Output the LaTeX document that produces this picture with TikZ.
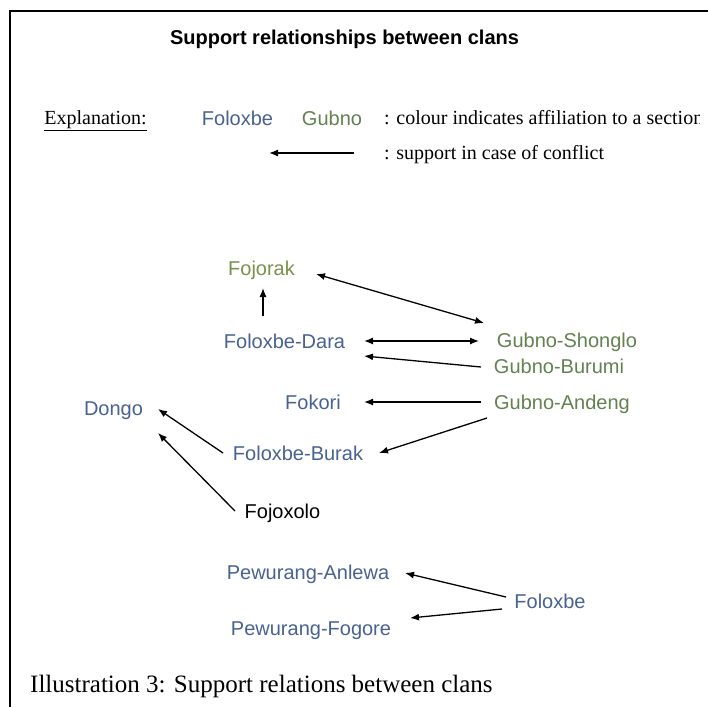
\documentclass[tikz,border=0pt]{standalone}
\usepackage{fontspec}
\setmainfont{Liberation Serif}
\setsansfont{Liberation Sans}
\usetikzlibrary{arrows.meta,calc}
\definecolor{clanblue}{RGB}{72,98,145}
\definecolor{clangreen}{RGB}{98,130,80}
\definecolor{clanolive}{RGB}{120,145,75}
\begin{document}
\begin{tikzpicture}[x=1pt,y=-1pt,
  clan/.style={font=\sffamily\fontsize{20}{24}\selectfont, inner sep=0pt, anchor=base, text height=14.6pt, text depth=4pt},
  blueclan/.style={clan, text=clanblue},
  greenclan/.style={clan, text=clangreen},
  serifnote/.style={font=\rmfamily\fontsize{20}{24}\selectfont, inner sep=0pt, anchor=base west},
  arr/.style={line width=1.3pt, -{Latex[length=9pt,width=7pt]}},
  darr/.style={line width=1.3pt, {Latex[length=9pt,width=7pt]}-{Latex[length=9pt,width=7pt]}}]
\useasboundingbox (0,0) rectangle (708,707);
\fill[white] (0,0) rectangle (708,707);
% frame
\draw[line width=1.8pt] (10,707) -- (10,11) -- (708,11);
% title
\node[font=\sffamily\bfseries\fontsize{20}{24}\selectfont, inner sep=0pt, anchor=base] (title) at (344.5,44) {Support relationships between clans};
% legend
\node[serifnote, anchor=base] (expl) at (95.5,124.6) {\underline{Explanation:}};
\node[blueclan] (legfol) at (237.5,125) {Foloxbe};
\node[greenclan] (leggub) at (332,125) {Gubno};
\begin{scope}
\clip (0,0) rectangle (699,707);
\node[serifnote] (legcol) at (384,124.6) {: colour indicates affiliation to a section};
\end{scope}
\coordinate (legtail) at (354,153);
\coordinate (leghead) at (269,153);
\draw[arr] (legtail) -- (leghead);
\node[serifnote] (legsup) at (384,159.6) {: support in case of conflict};
% clans
\node[clan, text=clanolive] (fojorak) at (261.5,275) {Fojorak};
\node[blueclan] (dara) at (284.5,348) {Foloxbe-Dara};
\node[greenclan] (shonglo) at (567,347) {Gubno-Shonglo};
\node[greenclan] (burumi) at (559,373) {Gubno-Burumi};
\node[blueclan] (fokori) at (313,409) {Fokori};
\node[greenclan] (andeng) at (562,409) {Gubno-Andeng};
\node[blueclan] (burak) at (298,460) {Foloxbe-Burak};
\node[blueclan] (dongo) at (113.5,415) {Dongo};
\node[clan, text=black] (fojoxolo) at (282.5,518) {Fojoxolo};
\node[blueclan] (anlewa) at (308,579) {Pewurang-Anlewa};
\node[blueclan] (fogore) at (311,635) {Pewurang-Fogore};
\node[blueclan] (folbot) at (550,608) {Foloxbe};
% connectors
\draw[arr] ($(dara)+(-21.5,-26.7)$) -- ($(fojorak)+(1.5,18.3)$);
\draw[darr] ($(fojorak)+(54.5,4.3)$) -- ($(shonglo)+(-83,-18.7)$);
\draw[darr] ($(dara)+(79.5,-1.7)$) -- ($(shonglo)+(-88,-0.7)$);
\draw[arr] ($(burumi)+(-78,-0.7)$) -- ($(dara)+(79.5,13.3)$);
\draw[arr] ($(andeng)+(-81,-1.7)$) -- ($(fokori)+(51,-1.7)$);
\draw[arr] ($(andeng)+(-75,14.3)$) -- ($(burak)+(81,-1.7)$);
\draw[arr] ($(burak)+(-75,-1.7)$) -- ($(dongo)+(44.5,-0.7)$);
\draw[arr] ($(fojoxolo)+(-47.5,-1.7)$) -- ($(dongo)+(44.5,23.3)$);
\draw[arr] ($(folbot)+(-44,-5.7)$) -- ($(anlewa)+(97,-0.7)$);
\draw[arr] ($(folbot)+(-48,6.3)$) -- ($(fogore)+(99,-11.7)$);
% caption
\node[font=\rmfamily\fontsize{25}{30}\selectfont, inner sep=0pt, anchor=base west] (caption) at (30,692) {Illustration 3: Support relations between clans};
\end{tikzpicture}
\end{document}
